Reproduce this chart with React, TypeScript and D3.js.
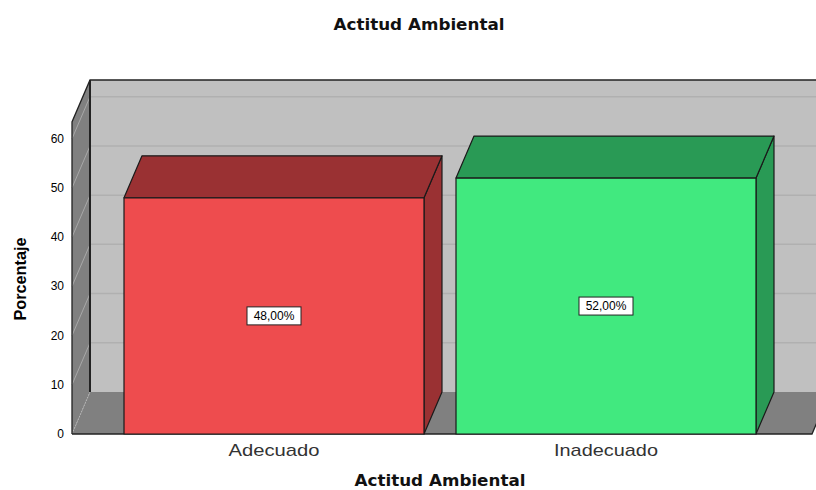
import React from "react";
import * as d3 from "d3";

const categories = ["Adecuado", "Inadecuado"];
const values = [48.0, 52.0];
const valueLabels = ["48,00%", "52,00%"];
const yTicks = [0, 10, 20, 30, 40, 50, 60];
const frontColors = ["#EE4C4E", "#41E97F"];
const topColors = ["#9A3133", "#299A55"];
const sideColors = ["#9A3133", "#299A55"];
const catLabelWidths = [91, 104];

const W = 816;
const H = 490;
const DX = 18;
const DY = -42;
const X0 = 72;
const X1 = 812;
const Y0 = 434;

export default function App() {
  const y = d3.scaleLinear().domain([0, 63.4]).range([Y0, 122]);
  const x = d3
    .scaleBand<string>()
    .domain(categories)
    .range([108, 772])
    .paddingInner(0.0964)
    .paddingOuter(0.0482);
  const yTop = y(63.4);
  const pts = (a: [number, number][]) => a.map((p) => p.join(",")).join(" ");
  return (
    <svg width={W} height={H} style={{ position: "absolute", left: 0, top: 0 }}>
      <rect x={0} y={0} width={W} height={H} fill="#ffffff" />
      {/* back wall */}
      <polygon
        points={pts([
          [X0 + DX, yTop + DY],
          [W + 20, yTop + DY],
          [W + 20, Y0 + DY],
          [X0 + DX, Y0 + DY],
        ])}
        fill="#C0C0C0"
      />
      {yTicks.slice(1).map((t) => (
        <line
          key={"g" + t}
          x1={X0 + DX}
          x2={W}
          y1={y(t) + DY}
          y2={y(t) + DY}
          stroke="#B0B0B0"
          strokeWidth={1.5}
        />
      ))}
      {/* left wall */}
      <polygon
        points={pts([
          [X0, yTop],
          [X0 + DX, yTop + DY],
          [X0 + DX, Y0 + DY],
          [X0, Y0],
        ])}
        fill="#808080"
      />
      {yTicks.slice(1).map((t) => (
        <line
          key={"d" + t}
          x1={X0}
          x2={X0 + DX}
          y1={y(t)}
          y2={y(t) + DY}
          stroke="#A8A8A8"
          strokeWidth={1}
        />
      ))}
      {/* floor */}
      <polygon
        points={pts([
          [X0, Y0],
          [X0 + DX, Y0 + DY],
          [X1 + DX, Y0 + DY],
          [X1, Y0],
        ])}
        fill="#808080"
      />
      <line x1={X0} y1={Y0} x2={X0 + DX} y2={Y0 + DY} stroke="#B8B8B8" strokeDasharray="1.5,1.5" />
      {/* borders */}
      <polyline
        points={pts([
          [X0, Y0],
          [X0, yTop],
          [X0 + DX, yTop + DY],
          [W + 20, yTop + DY],
        ])}
        fill="none"
        stroke="#222"
        strokeWidth={1.3}
      />
      <line x1={X0 + DX} y1={yTop + DY} x2={X0 + DX} y2={Y0 + DY} stroke="#222" strokeWidth={2} />
      <polyline
        points={pts([
          [X0, Y0],
          [X1, Y0],
          [X1 + DX, Y0 + DY],
        ])}
        fill="none"
        stroke="#222"
        strokeWidth={1.3}
      />
      {/* bars */}
      {categories.map((c, i) => {
        const bx = x(c) as number;
        const bw = x.bandwidth();
        const ty = y(values[i]);
        return (
          <g key={c} stroke="#1a1a1a" strokeWidth={1.2} strokeLinejoin="round">
            <polygon
              points={pts([
                [bx + bw, ty],
                [bx + bw + DX, ty + DY],
                [bx + bw + DX, Y0 + DY],
                [bx + bw, Y0],
              ])}
              fill={sideColors[i]}
            />
            <polygon
              points={pts([
                [bx, ty],
                [bx + DX, ty + DY],
                [bx + bw + DX, ty + DY],
                [bx + bw, ty],
              ])}
              fill={topColors[i]}
            />
            <rect x={bx} y={ty} width={bw} height={Y0 - ty} fill={frontColors[i]} />
          </g>
        );
      })}
      {/* value labels */}
      {categories.map((c, i) => {
        const cx = (x(c) as number) + x.bandwidth() / 2;
        const cy = (y(values[i]) + Y0) / 2;
        return (
          <g key={"l" + c}>
            <rect x={cx - 27} y={cy - 9} width={54} height={18} fill="#fff" stroke="#222" strokeWidth={1} />
            <text
              x={cx}
              y={cy + 4}
              textAnchor="middle"
              fontFamily="Liberation Sans, Arial, sans-serif"
              fontSize={12}
              fill="#000"
            >
              {valueLabels[i]}
            </text>
          </g>
        );
      })}
      {/* y tick labels */}
      {yTicks.map((t) => (
        <text
          key={"t" + t}
          x={64}
          y={y(t) + 4}
          textAnchor="end"
          fontFamily="Liberation Sans, Arial, sans-serif"
          fontSize={12}
          fill="#000"
        >
          {t}
        </text>
      ))}
      {/* category labels */}
      {categories.map((c, i) => (
        <text
          key={"c" + c}
          x={(x(c) as number) + x.bandwidth() / 2}
          y={456}
          textAnchor="middle"
          fontFamily="Liberation Sans, Arial, sans-serif"
          fontSize={17}
          textLength={catLabelWidths[i]}
          lengthAdjust="spacingAndGlyphs"
          fill="#333"
        >
          {c}
        </text>
      ))}
      <text
        x={419}
        y={30}
        textAnchor="middle"
        fontFamily="DejaVu Sans, sans-serif"
        fontWeight="bold"
        fontSize={15}
        textLength={171}
        lengthAdjust="spacingAndGlyphs"
        fill="#111"
      >
        Actitud Ambiental
      </text>
      <text
        x={440}
        y={486}
        textAnchor="middle"
        fontFamily="DejaVu Sans, sans-serif"
        fontWeight="bold"
        fontSize={15}
        textLength={171}
        lengthAdjust="spacingAndGlyphs"
        fill="#111"
      >
        Actitud Ambiental
      </text>
      <text
        transform="translate(26,279) rotate(-90)"
        textAnchor="middle"
        fontFamily="Liberation Sans, Arial, sans-serif"
        fontWeight="bold"
        fontSize={17}
        textLength={83}
        lengthAdjust="spacingAndGlyphs"
        fill="#000"
      >
        Porcentaje
      </text>
    </svg>
  );
}
